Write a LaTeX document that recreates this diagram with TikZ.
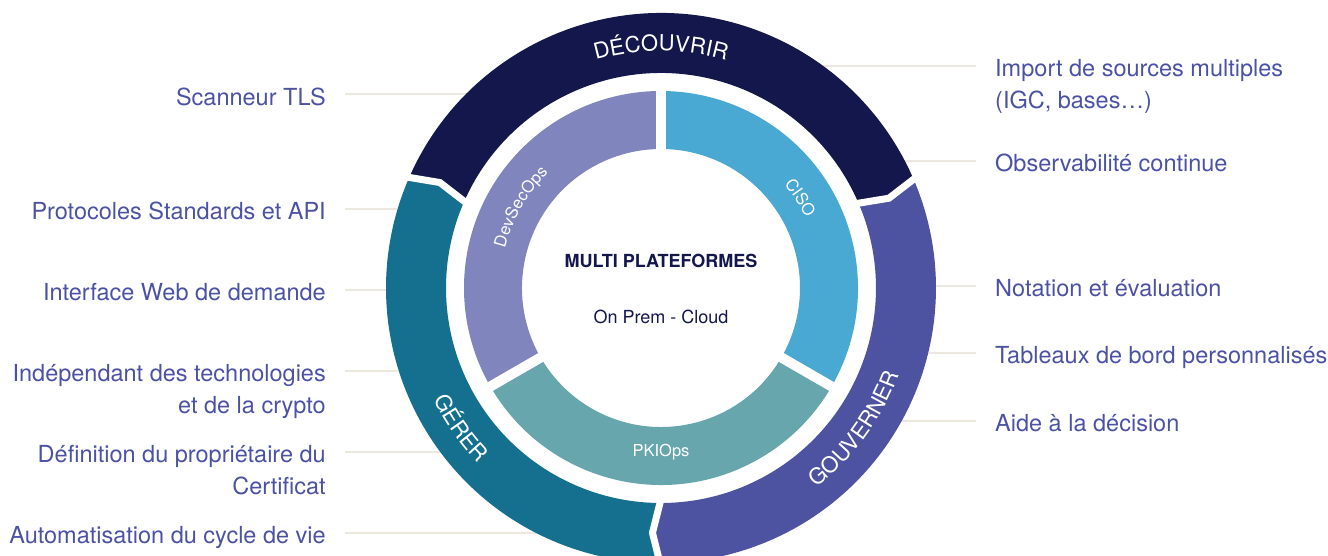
\documentclass[tikz,border=0pt]{standalone}
\usepackage{fontspec}
\setmainfont{TeX Gyre Heros}
\usetikzlibrary{decorations.text}

\definecolor{decouv}{HTML}{13174C}
\definecolor{gerer}{HTML}{15708F}
\definecolor{gouv}{HTML}{4E53A1}
\definecolor{devsec}{HTML}{8185BD}
\definecolor{ciso}{HTML}{4AA9D2}
\definecolor{pkiops}{HTML}{67A6AD}
\definecolor{lbltxt}{HTML}{4B52A4}
\definecolor{guideline}{HTML}{EDE8DF}

\tikzset{
  lbl/.style={font=\fontsize{23.5}{32}\selectfont, text=lbltxt, inner xsep=19pt, inner ysep=0pt, text height=21.6pt, text depth=0pt},
  lblleft/.style={lbl, anchor=east},
  lblright/.style={lbl, anchor=west},
  guide/.style={draw=guideline, line width=2pt},
  gap/.style={draw=white, line width=7pt},
  ringtext/.style={decorate, decoration={text along path, text align=center, text={|\fontsize{22}{26}\selectfont\color{white}|#1}}},
  innertext/.style={decorate, decoration={text along path, text align=center, text={|\fontsize{16.5}{20}\selectfont\color{white}|#1}}},
  midtext/.style={text=decouv, font=\fontsize{18}{22}\selectfont}
}

\begin{document}
\begin{tikzpicture}[x=1pt, y=1pt]
	\useasboundingbox (-661,-268) rectangle (667,288);
	\coordinate (c) at (0,0);

	\node[lblleft] (scan) at (-316,193.7) {Scanneur TLS};
	\node[lblleft] (proto) at (-316,79.3) {Protocoles Standards et API};
	\node[lblleft] (web) at (-316,-2) {Interface Web de demande};
	\node[lblleft] (indep) at (-316,-82.7) {\begin{tabular}[t]{@{}r@{}}Indépendant des technologies\\et de la crypto\end{tabular}};
	\node[lblleft] (owner) at (-316,-163.7) {\begin{tabular}[t]{@{}r@{}}Définition du propriétaire du\\Certificat\end{tabular}};
	\node[lblleft] (auto) at (-316,-245) {Automatisation du cycle de vie};

	\node[lblright] (import) at (315,222.3) {\begin{tabular}[t]{@{}l@{}}Import de sources multiples\\(IGC, bases…)\end{tabular}};
	\node[lblright] (observ) at (315,127.3) {Observabilité continue};
	\node[lblright] (notation) at (315,2.3) {Notation et évaluation};
	\node[lblright] (dash) at (315,-65) {Tableaux de bord personnalisés};
	\node[lblright] (aide) at (315,-132.7) {Aide à la décision};

	\draw[guide] (scan.east) -- (scan.east -| c);
	\draw[guide] (proto.east) -- (proto.east -| c);
	\draw[guide] (web.east) -- (web.east -| c);
	\draw[guide] (indep.east) -- (indep.east -| c);
	\draw[guide] (owner.east) -- (owner.east -| c);
	\draw[guide] (auto.east) -- (auto.east -| c);
	\draw[guide] (import.west) -- (import.west -| c);
	\draw[guide] (observ.west) -- (observ.west -| c);
	\draw[guide] (notation.west) -- (notation.west -| c);
	\draw[guide] (dash.west) -- (dash.west -| c);
	\draw[guide] (aide.west) -- (aide.west -| c);

	\fill[white] (c) circle[radius=275];

	\fill[decouv] (156.5:275) arc[start angle=156.5, end angle=23.5, radius=275] -- (21.5:245) -- (23.5:215) arc[start angle=23.5, end angle=156.5, radius=215] -- (154.5:245) -- cycle;
	\fill[gouv] (23.5:275) arc[start angle=23.5, end angle=-90, radius=275] -- (-92:245) -- (-90:215) arc[start angle=-90, end angle=23.5, radius=215] -- (21.5:245) -- cycle;
	\fill[gerer] (270:275) arc[start angle=270, end angle=156.5, radius=275] -- (154.5:245) -- (156.5:215) arc[start angle=156.5, end angle=270, radius=215] -- (268:245) -- cycle;
	\draw[gap] (156.5:279) -- (154.5:245) -- (156.5:211);
	\draw[gap] (23.5:279) -- (21.5:245) -- (23.5:211);
	\draw[gap] (-90:279) -- (-92:245) -- (-90:211);

	\fill[devsec] (90:197) arc[start angle=90, end angle=210, radius=197] -- (210:139) arc[start angle=210, end angle=90, radius=139] -- cycle;
	\fill[ciso] (-30:197) arc[start angle=-30, end angle=90, radius=197] -- (90:139) arc[start angle=90, end angle=-30, radius=139] -- cycle;
	\fill[pkiops] (210:197) arc[start angle=210, end angle=330, radius=197] -- (330:139) arc[start angle=330, end angle=210, radius=139] -- cycle;
	\draw[gap, line width=10pt] (90:134) -- (90:202);
	\draw[gap, line width=10pt] (210:134) -- (210:202);
	\draw[gap, line width=10pt] (330:134) -- (330:202);

	\path[ringtext=DÉCOUVRIR] (130:237) arc[start angle=130, end angle=50, radius=237];
	\path[ringtext=GÉRER] (180:253) arc[start angle=180, end angle=250, radius=253];
	\path[ringtext=GOUVERNER] (290:253) arc[start angle=290, end angle=358, radius=253];
	\path[innertext=DevSecOps] (185:161) arc[start angle=185, end angle=115, radius=161];
	\path[innertext=CISO] (68:161) arc[start angle=68, end angle=-2, radius=161];
	\node[text=white, font=\fontsize{16.5}{20}\selectfont] (pki) at (270:164) {PKIOps};

	\node[midtext, font=\fontsize{18}{22}\selectfont\bfseries] (multi) at (0,27) {MULTI PLATEFORMES};
	\node[midtext] (onprem) at (0,-29) {On Prem - Cloud};
\end{tikzpicture}
\end{document}
